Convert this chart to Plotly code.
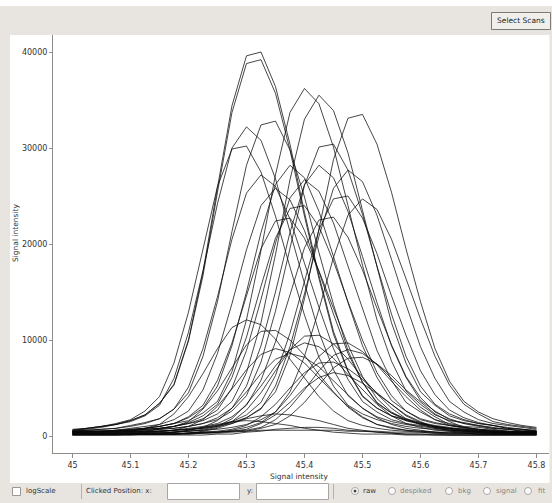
import plotly.graph_objects as go

# ---------------- data ----------------
retention_time = [45.0, 45.025, 45.05, 45.075, 45.1, 45.125, 45.15, 45.175, 45.2, 45.225,
                  45.25, 45.275, 45.3, 45.325, 45.35, 45.375, 45.4, 45.425, 45.45, 45.475,
                  45.5, 45.525, 45.55, 45.575, 45.6, 45.625, 45.65, 45.675, 45.7, 45.725,
                  45.75, 45.775, 45.8]

scan_01 = [600,800,1000,1200,1600,2200,3400,5400,10000,17100,25900,34400,39600,40000,36400,30400,23300,16700,10900,6800,4200,2900,2100,1700,1300,1000,800,600,500,400,400,400,400]
scan_02 = [600,800,950,1200,1600,2200,3400,5300,9900,16700,25400,33700,38800,39200,35700,29800,22900,16400,10600,6700,4100,2900,2100,1600,1300,1000,800,600,500,400,400,400,400]
scan_03 = [500,500,500,600,700,800,1000,1300,1600,2400,3600,6700,12100,19300,27200,33700,36200,34600,30100,24000,17800,12100,7800,4700,3300,2200,1600,1400,1100,800,700,500,400]
scan_04 = [500,500,500,500,600,700,800,1000,1300,1600,2300,3600,6600,11800,18900,26700,33000,35500,33900,29500,23500,17500,11800,7600,4600,3200,2100,1600,1300,1100,800,700,500]
scan_05 = [500,500,500,500,500,500,500,600,700,800,1100,1400,1900,2900,4600,8400,14300,21700,28800,33100,33500,30400,25400,19500,14000,9100,5700,3600,2500,1800,1400,1100,900]
scan_06 = [500,600,700,800,1100,1400,1800,2800,4500,8300,14000,21300,28200,32400,32800,29800,24900,19100,13700,8900,5600,3500,2400,1800,1400,1100,900,700,600,500,400,400,400]
scan_07 = [600,700,900,1200,1500,2100,3200,6000,10800,17200,24200,30000,32200,30800,26800,21300,15900,10800,6900,4200,2900,2000,1500,1200,1000,800,600,500,400,400,400,400,400]
scan_08 = [700,800,1000,1300,1700,2600,4100,7600,12900,19600,26000,29900,30200,27500,22900,17600,12600,8200,5200,3200,2300,1700,1300,1000,800,700,500,400,400,400,400,400,400]
scan_09 = [500,500,500,500,500,500,700,800,1000,1300,1700,2600,4200,7700,13000,19700,26100,30100,30400,27700,23100,17700,12700,8300,5200,3300,2300,1700,1300,1100,800,700,500]
scan_10 = [400,400,500,600,700,800,1000,1300,1900,2900,5200,9400,15000,21200,26200,28200,26900,23400,18700,13900,9400,6100,3700,2600,1700,1300,1100,900,700,600,500,400,400]
scan_11 = [400,400,400,400,500,600,700,800,1000,1300,1900,2900,5200,9400,15000,21200,26200,28200,26900,23400,18700,13900,9400,6100,3700,2600,1700,1300,1100,900,700,600,500]
scan_12 = [400,500,500,600,800,1000,1200,1700,2600,4800,8600,13800,19400,24000,25800,24600,21400,17100,12700,8600,5600,3400,2400,1600,1200,1000,800,700,500,400,400,400,400]
scan_13 = [400,400,400,400,400,400,500,600,700,900,1100,1500,2200,3500,6300,10700,16200,21500,24700,25000,22700,19000,14600,10500,6800,4300,2700,1900,1400,1100,900,700,600]
scan_14 = [400,400,400,400,400,500,500,600,800,1000,1300,2000,3200,5800,9800,14800,19600,22500,22800,20700,17300,13300,9500,6200,4000,2500,1800,1300,1000,800,700,500,500]
scan_15 = [400,400,500,500,600,800,1000,1300,2000,3200,5800,9700,14700,19500,22400,22700,20600,17200,13300,9500,6200,3900,2500,1700,1300,1000,800,700,500,500,400,400,400]
scan_16 = [400,400,400,500,500,700,800,1000,1300,1800,2700,5000,8900,14200,20100,24800,26700,25500,22200,17700,13200,8900,5800,3500,2500,1700,1300,1000,900,700,500,400,400]
scan_17 = [400,400,400,400,400,400,500,600,700,800,1000,1300,1900,2800,5200,9300,14800,20800,25800,27700,26500,23000,18400,13700,9300,6000,3600,2500,1700,1300,1100,900,700]
scan_18 = [500,600,700,800,1000,1300,1800,2800,5100,9100,14500,20500,25300,27200,26000,22600,18000,13400,9100,5900,3600,2500,1700,1300,1100,900,700,600,400,400,400,400,400]
scan_19 = [400,400,400,400,400,400,400,400,500,600,700,900,1200,1700,2500,4600,8300,13200,18600,23000,24700,23600,20500,16400,12200,8300,5300,3300,2300,1500,1200,1000,800]
scan_20 = [400,400,400,500,600,700,800,1000,1400,2100,3300,6100,10300,15600,20600,23700,24000,21800,18200,14000,10000,6600,4200,2600,1800,1400,1100,900,700,600,500,400,400]
scan_21 = [300,300,400,500,600,800,1200,2300,4100,6500,9100,11300,12100,11600,10100,8000,6000,4100,2600,1600,1100,800,600,500,400,300,200,200,200,200,200,200,200]
scan_22 = [200,200,300,300,400,500,700,1000,1500,2800,4700,7100,9500,10900,11000,10000,8400,6400,4600,3000,1900,1200,800,600,500,400,300,300,200,200,200,200,200]
scan_23 = [200,200,200,200,200,300,300,400,500,600,900,1500,2700,4500,6800,9000,10400,10500,9600,8000,6100,4400,2900,1800,1200,800,600,500,400,300,300,200,200]
scan_24 = [200,200,200,200,200,200,200,200,300,400,400,600,900,1400,2500,4200,6300,8300,9600,9700,8800,7400,5700,4100,2700,1700,1100,800,600,500,400,300,200]
scan_25 = [200,200,200,200,200,300,300,400,500,700,1000,1800,3300,5200,7300,9000,9700,9300,8100,6400,4800,3300,2100,1300,900,600,500,400,300,300,200,200,200]
scan_26 = [200,200,200,200,200,200,200,200,300,400,500,700,1100,2000,3300,5000,6600,7600,7700,7000,5900,4500,3300,2100,1400,900,600,500,400,300,300,200,200]
scan_27 = [200,200,200,200,200,200,200,200,300,300,400,500,600,900,1700,3000,4800,6800,8400,9000,8600,7500,6000,4500,3000,2000,1200,900,600,500,400,300,300]
scan_28 = [200,200,200,200,200,200,200,200,200,300,300,400,500,800,1200,2100,3500,5300,7100,8100,8200,7500,6300,4800,3500,2300,1500,900,700,500,400,300,300]
scan_29 = [200,200,200,200,200,300,400,400,600,900,1600,2900,4600,6500,8000,8600,8200,7200,5700,4300,2900,1900,1200,800,600,400,400,300,300,200,200,200,200]
scan_30 = [200,200,200,200,200,200,200,200,200,300,400,500,700,1300,2200,3500,5000,6100,6600,6300,5500,4400,3300,2200,1500,900,700,500,400,300,300,200,200]
scan_31 = [200,200,200,300,300,400,500,600,1000,1700,3100,4900,6900,8500,9100,8700,7600,6000,4500,3100,2000,1200,900,600,500,400,300,300,200,200,200,200,200]
scan_32 = [100,100,100,100,200,200,200,400,600,900,1200,1500,1600,1500,1300,1100,800,600,400,300,200,200,200,100,100,100,100,100,100,100,100,100,100]
scan_33 = [100,100,100,100,100,100,100,100,100,100,200,200,400,500,700,800,900,900,800,600,500,400,300,200,200,100,100,100,100,100,100,100,100]
scan_34 = [100,100,100,100,100,200,200,200,300,500,800,1300,1800,2100,2300,2200,1900,1600,1200,800,600,400,300,200,200,200,100,100,100,100,100,100,100]
scan_35 = [200,200,200,200,200,200,300,300,300,400,400,500,500,600,600,600,600,600,600,500,500,500,400,400,400,300,300,300,200,200,200,200,200]

x_tick_values = [45.0, 45.1, 45.2, 45.3, 45.4, 45.5, 45.6, 45.7, 45.8]
x_tick_labels = ["45", "45.1", "45.2", "45.3", "45.4", "45.5", "45.6", "45.7", "45.8"]
y_tick_values = [0, 10000, 20000, 30000, 40000]
y_tick_labels = ["0", "10000", "20000", "30000", "40000"]

x_title = "Signal intensity"
y_title = "Signal intensity"
button_label = "Select Scans"
mode_labels = ["raw", "despiked", "bkg", "signal", "fit"]

scans = [scan_01, scan_02, scan_03, scan_04, scan_05, scan_06, scan_07, scan_08, scan_09,
         scan_10, scan_11, scan_12, scan_13, scan_14, scan_15, scan_16, scan_17, scan_18,
         scan_19, scan_20, scan_21, scan_22, scan_23, scan_24, scan_25, scan_26, scan_27,
         scan_28, scan_29, scan_30, scan_31, scan_32, scan_33, scan_34, scan_35]

# ---------------- layout geometry (pixels) ----------------
W, H = 552, 503
L, R, T, B = 53, 3, 35, 50
PW = W - L - R
PH = H - T - B


def px(x):
    return (x - L) / PW


def py(y):
    return (H - B - y) / PH


FONT = "DejaVu Sans"

fig = go.Figure()
for s in scans:
    fig.add_trace(go.Scatter(x=retention_time, y=s, mode="lines",
                             line=dict(color="rgba(10,10,10,0.75)", width=1),
                             hoverinfo="skip", showlegend=False))

shapes = []
annots = []

# white strip at very top, white panel
shapes.append(dict(type="rect", xref="paper", yref="paper", x0=px(0), x1=px(W), y0=py(6), y1=py(0),
                   fillcolor="white", line=dict(width=0), layer="below"))
shapes.append(dict(type="rect", xref="paper", yref="paper", x0=px(10), x1=px(549.5), y0=py(483), y1=py(35),
                   fillcolor="white", line=dict(width=0), layer="below"))

# Select Scans button
shapes.append(dict(type="rect", xref="paper", yref="paper", x0=px(491.5), x1=px(550.5), y0=py(29.5), y1=py(12.5),
                   fillcolor="#f1efec", line=dict(color="#7d7a76", width=1)))
annots.append(dict(text=button_label, x=px(521), y=py(21), xref="paper", yref="paper", showarrow=False,
                   xanchor="center", yanchor="middle", font=dict(family=FONT, size=7.5, color="#222")))

# axis titles
annots.append(dict(text=x_title, x=px(299), y=py(476), xref="paper", yref="paper", showarrow=False,
                   xanchor="center", yanchor="middle", font=dict(family=FONT, size=7.5, color="#333")))
annots.append(dict(text=y_title, x=px(15), y=py(233), xref="paper", yref="paper", showarrow=False,
                   textangle=-90, xanchor="center", yanchor="middle", font=dict(family=FONT, size=7.5, color="#333")))

# bottom control row
row_y = 491
shapes.append(dict(type="rect", xref="paper", yref="paper", x0=px(12.5), x1=px(20.5), y0=py(495.5), y1=py(487.5),
                   fillcolor="white", line=dict(color="#9a9794", width=1)))
annots.append(dict(text="logScale", x=px(24), y=py(row_y), xref="paper", yref="paper", showarrow=False,
                   xanchor="left", yanchor="middle", font=dict(family=FONT, size=7, color="#333")))
for sx in (81.5, 333.5):
    shapes.append(dict(type="line", xref="paper", yref="paper", x0=px(sx), x1=px(sx), y0=py(499), y1=py(484),
                       line=dict(color="#b5b1ad", width=1)))
annots.append(dict(text="Clicked Position: x:", x=px(84), y=py(row_y), xref="paper", yref="paper", showarrow=False,
                   xanchor="left", yanchor="middle", font=dict(family=FONT, size=7, color="#333")))
for x0, x1 in ((167.5, 239.5), (256.5, 328.5)):
    shapes.append(dict(type="rect", xref="paper", yref="paper", x0=px(x0), x1=px(x1), y0=py(499.5), y1=py(483.5),
                       fillcolor="white", line=dict(color="#a9a6a2", width=1)))
annots.append(dict(text="y:", x=px(245), y=py(row_y), xref="paper", yref="paper", showarrow=False,
                   xanchor="left", yanchor="middle", font=dict(family=FONT, size=7, color="#333")))

radio_x = [355, 392, 449, 487, 528]
label_x = [361, 398, 456, 494, 536]
for k, (rx, lx, lab) in enumerate(zip(radio_x, label_x, mode_labels)):
    shapes.append(dict(type="circle", xref="paper", yref="paper", x0=px(rx - 3.5), x1=px(rx + 3.5),
                       y0=py(row_y + 3.5), y1=py(row_y - 3.5), fillcolor="white",
                       line=dict(color="#a9a6a2", width=1)))
    if k == 0:
        shapes.append(dict(type="circle", xref="paper", yref="paper", x0=px(rx - 1.5), x1=px(rx + 1.5),
                           y0=py(row_y + 1.5), y1=py(row_y - 1.5), fillcolor="#444",
                           line=dict(color="#444", width=0)))
    annots.append(dict(text=lab, x=px(lx), y=py(row_y), xref="paper", yref="paper", showarrow=False,
                       xanchor="left", yanchor="middle",
                       font=dict(family=FONT, size=7, color="#333" if k == 0 else "#8a8783")))

fig.update_layout(
    width=W, height=H,
    margin=dict(l=L, r=R, t=T, b=B, pad=0),
    paper_bgcolor="#e8e4df",
    plot_bgcolor="white",
    shapes=shapes,
    annotations=annots,
    showlegend=False,
    xaxis=dict(range=[44.9664, 45.8216], tickmode="array", tickvals=x_tick_values, ticktext=x_tick_labels,
               showgrid=False, zeroline=False, showline=True, linecolor="#8f8c88", linewidth=1,
               ticks="outside", ticklen=4, tickcolor="#8f8c88",
               tickfont=dict(family=FONT, size=8, color="#333")),
    yaxis=dict(range=[-1771, 41771], tickmode="array", tickvals=y_tick_values, ticktext=y_tick_labels,
               showgrid=False, zeroline=False, showline=True, linecolor="#8f8c88", linewidth=1,
               ticks="outside", ticklen=3, tickcolor="#8f8c88",
               tickfont=dict(family=FONT, size=8, color="#333")),
)

fig.write_html("out.html", config={"displayModeBar": False},
               post_script="document.body.style.margin='0';")
